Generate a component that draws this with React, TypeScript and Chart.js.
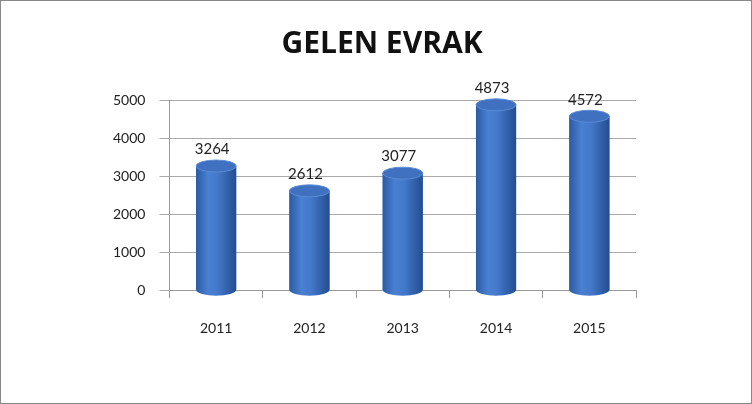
import React, { useEffect, useRef } from "react";
import { Chart, registerables } from "chart.js";

Chart.register(...registerables);

const categories = ["2011", "2012", "2013", "2014", "2015"];
const values = [3264, 2612, 3077, 4873, 4572];
const yTicks = [0, 1000, 2000, 3000, 4000, 5000];
const title = "GELEN EVRAK";

const cylinderPlugin = {
  id: "cylinder",
  afterLayout(chart: any) {
    const tb = chart.titleBlock;
    if (tb) {
      tb.left = 0;
      tb.right = 762;
      tb.width = 762;
    }
  },
  afterDatasetsDraw(chart: any) {
    const ctx = chart.ctx;
    const meta = chart.getDatasetMeta(0);
    meta.data.forEach((el: any, i: number) => {
      const { x, y, base, width } = el.getProps(["x", "y", "base", "width"], true);
      const l = x - width / 2;
      const r = x + width / 2;
      const ry = 6;
      const g = ctx.createLinearGradient(l, 0, r, 0);
      g.addColorStop(0, "#2a5aa3");
      g.addColorStop(0.3, "#4a80d2");
      g.addColorStop(0.55, "#4277c9");
      g.addColorStop(1, "#244d90");
      ctx.save();
      ctx.beginPath();
      ctx.moveTo(l, y);
      ctx.lineTo(l, base);
      ctx.ellipse(x, base, width / 2, ry, 0, Math.PI, 0, true);
      ctx.lineTo(r, y);
      ctx.closePath();
      ctx.fillStyle = g;
      ctx.fill();
      ctx.beginPath();
      ctx.ellipse(x, y, width / 2, ry, 0, 0, Math.PI * 2);
      ctx.fillStyle = "#3f71c0";
      ctx.fill();
      ctx.strokeStyle = "#5a8bd6";
      ctx.lineWidth = 1;
      ctx.stroke();
      ctx.fillStyle = "#222";
      ctx.font = "15px Lato, 'Open Sans', sans-serif";
      ctx.textAlign = "center";
      ctx.textBaseline = "bottom";
      ctx.fillText(String(values[i]), x - 4, y - ry - 3);
      ctx.restore();
    });
  },
};

export default function App() {
  const ref = useRef<HTMLCanvasElement>(null);
  useEffect(() => {
    document.body.style.margin = "0";
    const chart = new Chart(ref.current!, {
      type: "bar",
      data: {
        labels: categories,
        datasets: [
          {
            data: values,
            backgroundColor: "#3a6fc4",
            barPercentage: 0.43,
            categoryPercentage: 1,
          },
        ],
      },
      options: {
        animation: false,
        responsive: false,
        layout: { padding: { left: 98, right: 115, top: 10, bottom: 44 } },
        plugins: {
          legend: { display: false },
          tooltip: { enabled: false },
          title: {
            display: true,
            text: title,
            color: "#111",
            font: { family: "'Open Sans', sans-serif", size: 30, weight: "bold" },
            padding: { top: 15, bottom: 38 },
          },
        },
        scales: {
          x: {
            grid: { display: true, drawOnChartArea: false, color: "#999", tickLength: 8, offset: true },
            border: { color: "#999" },
            ticks: { color: "#222", font: { family: "Lato, 'Open Sans', sans-serif", size: 14 }, padding: 22 },
          },
          y: {
            min: 0,
            max: 5000,
            afterBuildTicks: (axis: any) => {
              axis.ticks = yTicks.map((v) => ({ value: v }));
            },
            grid: { color: "#aaa", tickLength: 10 },
            border: { color: "#999" },
            ticks: {
              color: "#222",
              font: { family: "Lato, 'Open Sans', sans-serif", size: 14 },
              padding: 14,
              callback: (v: any) => String(v),
            },
          },
        },
      },
      plugins: [cylinderPlugin],
    });
    return () => chart.destroy();
  }, []);
  return (
    <div
      style={{
        position: "fixed",
        left: 0,
        top: 0,
        width: 752,
        height: 404,
        boxSizing: "border-box",
        border: "1px solid #888",
        background: "#fff",
      }}
    >
      <canvas ref={ref} width={750} height={402} style={{ display: "block" }} />
    </div>
  );
}
